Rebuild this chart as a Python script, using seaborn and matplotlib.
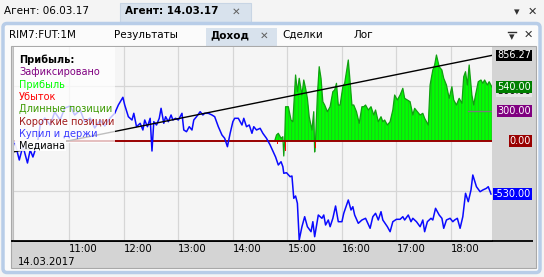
import numpy as np
import matplotlib
matplotlib.use("Agg")
import matplotlib.pyplot as plt
from matplotlib.patches import Rectangle, FancyBboxPatch
import seaborn as sns

plt.rcParams['font.family'] = ['DejaVu Sans']
plt.rcParams['hatch.linewidth'] = 0.6

# ---------------- data ----------------
hold_times = ["10:00", "10:05", "10:09", "10:14", "10:17", "10:20", "10:25", "10:28", "10:33", "10:39",
              "10:44", "10:50", "10:55", "11:01", "11:06", "11:12", "11:17", "11:23", "11:28", "11:34",
              "11:39", "11:45", "11:50", "11:54", "11:59", "12:01", "12:05", "12:09", "12:11", "12:14",
              "12:18", "12:21", "12:23", "12:26", "12:29", "12:31", "12:33", "12:36", "12:39", "12:41",
              "12:44", "12:46", "12:49", "12:52", "12:54", "12:57", "13:00", "13:04", "13:06", "13:09",
              "13:12", "13:15", "13:17", "13:20", "13:24", "13:27", "13:29", "13:33", "13:37", "13:40",
              "13:44", "13:48", "13:51", "13:54", "13:57", "14:00", "14:02", "14:06", "14:10", "14:12",
              "14:15", "14:18", "14:21", "14:23", "14:26", "14:30", "14:33", "14:37", "14:41", "14:44",
              "14:47", "14:50", "14:53", "14:55", "14:56", "14:59", "15:03", "15:05", "15:07", "15:09",
              "15:11", "15:13", "15:16", "15:19", "15:22", "15:26", "15:28", "15:30", "15:34", "15:38",
              "15:40", "15:42", "15:45", "15:47", "15:50", "15:53", "15:56", "16:00", "16:02", "16:07",
              "16:10", "16:12", "16:14", "16:18", "16:22", "16:26", "16:31", "16:34", "16:37", "16:40",
              "16:43", "16:45", "16:50", "16:53", "16:56", "17:00", "17:04", "17:07", "17:09", "17:13",
              "17:16", "17:18", "17:22", "17:26", "17:29", "17:31", "17:34", "17:38", "17:40", "17:43",
              "17:47", "17:50", "17:52", "17:55", "17:59", "18:02", "18:04", "18:07", "18:10", "18:13",
              "18:16", "18:19", "18:22", "18:24", "18:28", "18:32", "18:35", "18:39", "18:41", "18:44"]
hold_values = [-10, -190, -50, -220, -90, -160, -20, 160, 230, 160,
               290, 210, 330, 350, 260, 310, 190, 230, 130, 210,
               150, 230, 277, 360, 437, 360, 243, 210, 277, 143,
               177, 110, 210, 143, 227, -100, 193, 160, 227, 327,
               177, 243, 193, 260, 210, 227, 210, 277, 110, 93,
               143, 110, 210, 243, 293, 260, 277, 277, 260, 243,
               143, 60, 27, -57, 77, 193, 227, 227, 160, 227,
               143, 160, 77, 143, 110, 127, 77, 27, -40, -100,
               -160, -240, -207, -257, -323, -317, -357, -350, -573, -550,
               -623, -990, -857, -757, -857, -907, -807, -957, -740, -773,
               -740, -840, -790, -857, -773, -650, -807, -807, -723, -590,
               -690, -657, -740, -823, -790, -773, -873, -757, -723, -790,
               -707, -790, -857, -907, -807, -783, -783, -757, -790, -740,
               -807, -773, -807, -857, -790, -907, -807, -773, -790, -673,
               -740, -773, -873, -790, -773, -807, -790, -773, -873, -757,
               -523, -607, -490, -340, -457, -507, -490, -473, -457, -530]

profit_times = ["14:46", "14:48", "14:50", "14:53", "14:55", "14:56", "14:57", "14:58", "15:01", "15:04",
                "15:06", "15:09", "15:11", "15:13", "15:16", "15:18", "15:20", "15:22", "15:24", "15:27",
                "15:29", "15:30", "15:31", "15:33", "15:35", "15:37", "15:39", "15:41", "15:44", "15:47",
                "15:50", "15:52", "15:54", "15:56", "15:58", "16:01", "16:03", "16:05", "16:07", "16:09",
                "16:11", "16:13", "16:16", "16:19", "16:22", "16:24", "16:26", "16:29", "16:32", "16:35",
                "16:37", "16:40", "16:43", "16:45", "16:47", "16:50", "16:53", "16:56", "16:58", "17:01",
                "17:04", "17:07", "17:09", "17:12", "17:15", "17:18", "17:20", "17:23", "17:26", "17:29",
                "17:31", "17:35", "17:37", "17:40", "17:42", "17:44", "17:47", "17:50", "17:52", "17:55",
                "17:58", "18:01", "18:03", "18:06", "18:09", "18:12", "18:14", "18:16", "18:18", "18:20",
                "18:23", "18:25", "18:27", "18:30", "18:33", "18:35", "18:37", "18:40", "18:42", "18:45"]
profit_values = [0, 60, 77, 27, 43, -150, 0, 343, 343, 210,
                 193, 660, 493, 627, 460, 610, 527, 427, 243, 110,
                 293, -110, 10, 460, 743, 627, 393, 360, 293, 343,
                 493, 510, 577, 360, 360, 543, 577, 693, 810, 593,
                 360, 360, 293, 177, 343, 343, 360, 310, 343, 260,
                 310, 193, 243, 193, 210, 160, 193, 310, 460, 410,
                 460, 527, 427, 410, 393, 260, 327, 293, 260, 277,
                 227, 160, 560, 710, 760, 860, 743, 710, 627, 560,
                 427, 543, 410, 360, 427, 377, 643, 693, 560, 760,
                 460, 360, 460, 593, 610, 577, 610, 560, 593, 540]

loss_times = ["14:49", "14:58", "15:31"]
loss_values = [-30, -100, -70]

trend_times = ["09:58", "18:45"]
trend_values = [-110, 856.27]

fixed_times = ["18:19", "18:45"]
fixed_values = [300, 300]

hour_ticks = [11, 12, 13, 14, 15, 16, 17, 18]
hour_labels = ["11:00", "12:00", "13:00", "14:00", "15:00", "16:00", "17:00", "18:00"]
date_label = "14.03.2017"

legend_title = "Прибыль:"
legend_items = ["Зафиксировано", "Прибыль", "Убыток", "Длинные позиции",
                "Короткие позиции", "Купил и держи"]
legend_colors = ["#800080", "#00ff00", "#ff0000", "#3c9a00", "#a01818", "#3b3bff"]
median_label = "Медиана"

tag_texts = ["500.00", "856.27", "540.00", "300.00", "0.00", "-530.00"]
tag_levels = [497, 856.27, 540, 300, 0, -530]
tag_colors = ["#e6e6e6", "#000000", "#008000", "#800080", "#990000", "#0000ff"]
tag_text_colors = ["#000000", "white", "white", "white", "white", "white"]

outer_tabs = ["Агент: 06.03.17", "Агент: 14.03.17"]
inner_tabs = ["RIM7:FUT:1M", "Результаты", "Доход", "Сделки", "Лог"]


def to_hours(ts):
    out = []
    for t in ts:
        h, m = t.split(":")
        out.append(int(h) + int(m) / 60.0)
    return np.array(out)


W, H = 544, 277
fig = plt.figure(figsize=(W / 100, H / 100), dpi=100, facecolor="#f4f4f4")

# ---------------- chrome (pixel coordinates) ----------------
bg = fig.add_axes([0, 0, 1, 1], zorder=-5)
bg.set_xlim(0, W)
bg.set_ylim(H, 0)
bg.axis("off")

bg.add_patch(Rectangle((120, 3), 131, 19, fc="#d8e2ed", ec="#c8d5e4", lw=0.8))
bg.text(4, 11, outer_tabs[0], fontsize=7.5, va="center", ha="left", color="#000000")
bg.text(125, 11, outer_tabs[1], fontsize=7.5, va="center", ha="left", color="#000000", fontweight="bold")
bg.text(236, 12, "✕", fontsize=7.5, va="center", ha="center", color="#606060")
bg.text(517, 12, "▾", fontsize=8, va="center", ha="center", color="#303030")
bg.text(532, 12, "✕", fontsize=8, va="center", ha="center", color="#303030")

bg.add_patch(FancyBboxPatch((3, 23.5), 537, 249, boxstyle="round,pad=0,rounding_size=4",
                            fc="#fbfbfb", ec="#b8cde8", lw=2.5))
bg.add_patch(Rectangle((206, 28), 71, 18, fc="#d8e2ed", ec="none"))
bg.text(9, 35, inner_tabs[0], fontsize=7.5, va="center", ha="left")
bg.text(114, 35, inner_tabs[1], fontsize=7.5, va="center", ha="left")
bg.text(210, 35, inner_tabs[2], fontsize=7.5, va="center", ha="left", fontweight="bold")
bg.text(264, 36, "✕", fontsize=7.5, va="center", ha="center", color="#606060")
bg.text(282, 35, inner_tabs[3], fontsize=7.5, va="center", ha="left")
bg.text(354, 35, inner_tabs[4], fontsize=7.5, va="center", ha="left")
bg.plot([508, 516], [32, 32], color="#303030", lw=1)
bg.text(512, 37, "▾", fontsize=8, va="center", ha="center", color="#303030")
bg.text(528, 35, "✕", fontsize=8, va="center", ha="center", color="#303030")

bg.add_patch(Rectangle((10.5, 46), 525, 221.5, fc="#d4d4d4", ec="#a9a9a9", lw=0.8))
bg.plot([11, 533], [241, 241], color="black", lw=1.3, solid_capstyle="butt")
bg.text(18, 262, date_label, fontsize=7.3, va="center", ha="left")

# ---------------- main chart ----------------
ax = fig.add_axes([13 / W, 1 - 241 / H, 479 / W, 194 / H], facecolor="#f5f5f5")
ax.set_xlim(9.968, 18.752)
ax.set_ylim(-1000, 940)

hx = to_hours(hold_times)
hy = np.array(hold_values, dtype=float)
px = to_hours(profit_times)
py = np.array(profit_values, dtype=float)
lx = to_hours(loss_times)
ly = np.array(loss_values, dtype=float)
tx = to_hours(trend_times)
ty = np.array(trend_values, dtype=float)
fx = to_hours(fixed_times)
fy = np.array(fixed_values, dtype=float)

ax.fill_between(px, py, 0, where=py > 0, interpolate=True, facecolor="#00ff00",
                edgecolor="#1fc01f", hatch="|||||", lw=0, zorder=1)
sns.lineplot(x=px, y=py, ax=ax, color="#10a010", linewidth=0.9, estimator=None, sort=False, zorder=1.2)
ax.bar(lx, ly, width=0.025, color="#ff0000", zorder=1.3)
ax.axhline(0, color="#990000", lw=1.4, zorder=1.5)
sns.lineplot(x=fx, y=fy, ax=ax, color="#7a7a7a", linewidth=1.0, estimator=None, sort=False, zorder=1.6)
sns.lineplot(x=hx, y=hy, ax=ax, color="#0a0aff", linewidth=1.1, estimator=None, sort=False, zorder=2)
sns.lineplot(x=tx, y=ty, ax=ax, color="#000000", linewidth=1.0, estimator=None, sort=False, zorder=2.5)

ax.set_xlabel("")
ax.set_ylabel("")
ax.set_xticks(hour_ticks)
ax.set_xticklabels(hour_labels, ha="left", fontsize=7.3)
ax.tick_params(axis="x", length=0, pad=2.5)
ax.set_yticks([-500, 550])
ax.tick_params(axis="y", length=0, labelleft=False)
ax.grid(True, color="#d6d6d6", lw=0.9)
ax.set_axisbelow(True)
for s in ["top", "right"]:
    ax.spines[s].set_visible(False)
ax.spines["left"].set_color("#bdbdbd")
ax.spines["bottom"].set_color("black")
ax.spines["bottom"].set_linewidth(1.3)

tag_x = (531 - 13) / 479
for txt, lvl, c, tc in zip(tag_texts, tag_levels, tag_colors, tag_text_colors):
    ax.text(tag_x, lvl, txt, transform=ax.get_yaxis_transform(), ha="right", va="center",
            fontsize=7, color=tc, clip_on=False,
            bbox=dict(boxstyle="square,pad=0.08", fc=c, ec="none"))

# ---------------- legend overlay ----------------
ov = fig.add_axes([0, 0, 1, 1], zorder=10)
ov.set_xlim(0, W)
ov.set_ylim(H, 0)
ov.axis("off")
ov.add_patch(Rectangle((13.5, 47), 101.5, 96, fc="white", alpha=0.75, ec="none"))
ov.add_patch(Rectangle((15, 140), 51, 11, fc="white", alpha=0.92, ec="none"))
ov.text(19, 60, legend_title, fontsize=7, fontweight="bold", va="center", ha="left", color="black")
ys = [72, 84.5, 97, 109.3, 121.7, 134]
for t, c, yy in zip(legend_items, legend_colors, ys):
    ov.text(19, yy, t, fontsize=7, va="center", ha="left", color=c)
ov.text(19, 145.5, median_label, fontsize=7, va="center", ha="left", color="black")

fig.savefig("out.png", dpi=100, facecolor=fig.get_facecolor())
